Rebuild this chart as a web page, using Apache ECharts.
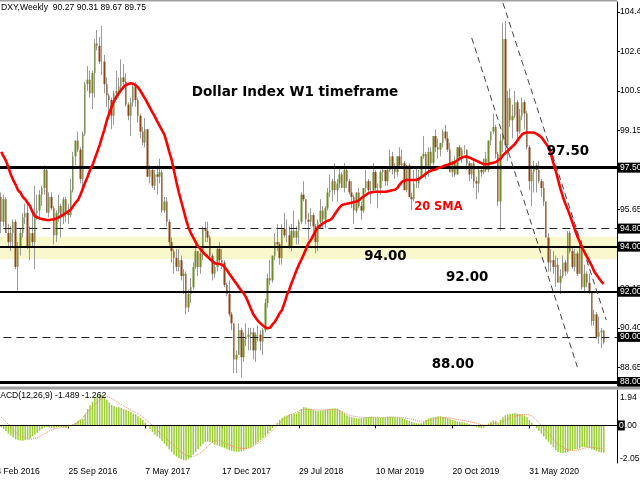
<!DOCTYPE html>
<html><head><meta charset="utf-8">
<script src="https://cdn.jsdelivr.net/npm/echarts@6/dist/echarts.min.js"></script>
<style>html,body{margin:0;padding:0;background:#fff}#c{width:640px;height:480px}</style>
</head><body><div id="c"></div>
<script>
// ---- weekly OHLC (13 Mar 2016 .. 3 Jan 2021) ----
const opens = [
96.2,95.1,96.1,94.6,94.2,94.6,95.1,93.1,94.0,94.6,
95.3,95.5,94.0,94.6,94.2,95.5,95.6,96.3,96.6,97.4,
95.5,96.2,95.7,94.5,95.5,95.8,95.3,96.1,95.5,95.4,
96.5,98.0,98.7,98.3,97.0,99.0,101.2,101.4,100.8,101.7,
103.0,102.9,102.2,102.2,101.2,100.7,100.5,99.8,100.8,100.9,
101.1,101.5,101.3,100.3,99.8,100.4,101.1,100.5,99.8,99.1,
98.6,99.2,97.1,97.4,96.7,97.2,97.1,97.3,95.6,96.0,
95.1,94.2,93.8,93.5,93.1,93.4,92.7,92.8,91.3,91.9,
92.2,93.1,93.8,93.1,93.7,94.8,94.7,94.4,93.6,92.8,
93.1,93.9,93.4,93.3,92.3,91.9,91.0,90.6,89.0,89.2,
90.3,89.1,89.9,90.0,90.1,90.2,89.4,90.1,90.1,89.8,
90.3,91.5,92.6,92.5,93.6,94.2,94.1,93.5,94.8,94.5,
94.5,94.0,94.7,94.4,94.7,95.1,96.3,96.1,95.2,95.1,
95.4,94.9,94.2,95.1,95.6,95.2,95.7,96.4,96.5,96.9,
96.5,96.8,97.2,96.6,97.4,96.9,96.4,96.2,95.6,96.4,
95.8,95.6,96.6,96.9,96.5,96.5,97.3,96.6,96.6,97.3,
97.4,96.9,97.4,98.0,97.5,97.3,98.0,97.6,97.7,96.5,
97.6,96.2,96.1,96.8,96.8,97.1,98.0,98.1,97.5,98.2,
97.7,98.9,98.4,98.3,98.6,99.1,98.8,98.3,97.3,97.8,
97.2,98.4,98.0,98.3,98.3,97.7,97.2,97.7,96.9,96.8,
97.4,97.3,97.9,97.4,98.7,99.1,99.3,98.1,96.0,98.7,
103.2,98.5,100.6,99.6,99.8,100.4,99.1,99.8,100.4,99.9,
98.4,96.9,97.3,97.6,97.4,96.9,96.6,96.0,94.4,93.3,
93.4,93.1,93.2,92.4,92.7,93.3,92.9,94.6,93.8,93.1,
93.7,92.8,94.0,92.2,92.8,92.4,92.0,90.7,91.0,90.0,
90.2,90.27];
const highs = [
96.4,96.3,96.2,95.0,94.9,95.2,95.2,94.2,94.8,95.5,
95.9,96.0,94.9,95.6,96.7,96.3,96.5,96.7,97.6,97.5,
96.4,96.4,95.8,95.6,96.3,95.9,96.2,96.2,95.9,97.0,
98.2,98.7,99.1,98.4,99.1,101.3,102.0,101.8,101.8,103.2,
103.6,103.3,103.8,102.5,101.5,100.8,100.6,100.9,101.8,101.5,
102.3,102.1,101.7,100.4,100.6,101.2,101.3,100.6,99.9,99.3,
99.7,99.2,97.6,97.5,97.4,97.6,97.9,97.4,96.2,96.2,
95.2,94.4,93.9,93.9,93.9,93.6,93.0,92.9,92.1,92.6,
93.3,94.1,93.8,93.9,94.9,95.1,95.1,94.5,93.7,93.3,
94.0,94.2,93.9,93.4,92.4,92.5,91.1,90.6,89.4,90.6,
90.4,90.2,90.6,90.4,90.4,90.4,90.2,90.5,90.3,90.4,
91.7,92.8,93.4,93.6,94.6,95.0,94.2,95.0,95.5,95.2,
94.9,95.0,95.6,94.9,95.2,96.4,96.9,96.1,95.5,95.7,
95.5,95.0,95.2,96.1,95.8,95.8,96.6,97.2,97.0,97.7,
97.0,97.5,97.3,97.7,97.5,97.0,96.9,96.3,96.4,96.6,
96.0,96.6,97.4,97.0,96.9,97.7,97.4,96.8,97.4,97.5,
97.4,97.5,98.3,98.2,97.7,98.0,98.4,98.3,97.8,97.6,
97.7,96.4,97.4,97.5,97.4,98.0,98.9,98.2,98.4,98.4,
98.9,99.2,98.8,98.6,99.2,99.4,99.1,98.6,97.8,98.0,
98.4,98.5,98.4,98.5,98.3,97.8,97.7,97.8,97.1,97.5,
97.5,97.9,98.2,98.7,99.1,99.9,99.4,98.2,99.0,103.9,
104.0,100.9,101.0,100.3,100.9,100.5,100.1,100.6,100.5,100.0,
98.5,97.6,97.8,97.7,97.8,97.0,96.9,96.0,94.6,93.9,
93.8,93.6,93.5,93.0,93.6,93.4,94.7,94.7,94.0,93.9,
93.8,94.3,94.3,93.2,92.9,92.8,92.0,91.2,91.1,90.9,
90.4,90.31];
const lows = [
94.6,94.9,94.6,94.0,93.8,94.0,93.0,92.0,93.6,94.4,
95.0,93.9,93.4,94.0,93.0,95.2,95.3,95.8,96.3,95.5,
95.3,95.6,94.1,94.2,95.1,94.4,95.0,95.1,95.0,95.3,
96.4,97.6,98.2,96.8,96.5,98.9,100.9,100.6,100.1,100.6,
102.7,102.1,101.6,100.8,100.2,99.8,99.2,99.4,100.5,100.6,
100.8,101.1,100.2,99.6,98.9,100.2,100.2,99.5,98.8,98.5,
98.4,97.1,96.8,96.6,96.5,96.3,96.8,95.5,95.5,94.9,
94.0,93.3,92.8,92.9,92.9,92.5,91.9,91.0,91.1,91.5,
92.1,93.0,92.7,92.8,93.4,94.2,94.2,93.4,92.5,92.6,
92.9,93.2,93.0,92.2,91.8,90.9,90.3,88.4,88.4,89.2,
88.2,88.9,89.6,89.4,89.4,89.0,88.9,89.8,89.4,89.2,
90.2,91.3,92.3,92.4,93.4,93.8,93.2,93.2,94.4,94.2,
93.9,93.8,94.4,94.1,94.1,95.0,96.0,95.0,94.3,94.9,
94.6,93.7,93.8,94.8,94.8,94.8,95.6,96.2,96.0,96.3,
96.0,96.6,96.6,96.4,96.6,96.3,95.7,95.0,95.5,95.7,
95.2,95.5,96.4,96.3,95.9,96.4,96.5,95.7,96.3,96.9,
96.7,96.7,97.3,97.2,97.0,97.1,97.5,97.5,96.5,96.4,
96.2,95.6,96.0,96.6,96.6,97.0,97.9,97.0,97.1,97.4,
97.6,98.2,97.9,98.0,98.4,98.7,98.2,97.3,97.1,97.1,
97.2,97.9,97.7,98.1,97.4,96.9,97.0,96.6,96.1,96.4,
97.1,97.2,97.3,97.3,98.5,99.0,97.9,95.8,94.7,98.2,
98.2,97.8,99.3,98.8,99.7,98.8,99.0,99.6,99.2,98.3,
96.5,95.8,96.4,96.4,96.8,96.2,95.8,94.4,92.9,92.9,
92.8,92.2,92.4,91.9,92.6,92.7,92.8,93.7,93.0,92.9,
92.7,92.8,92.1,92.0,92.2,91.9,90.5,90.5,89.9,89.7,
89.5,89.67];
const closes = [
95.1,96.1,94.6,94.2,94.6,95.1,93.1,94.0,94.6,95.3,
95.5,94.0,94.6,94.2,95.5,95.6,96.3,96.6,97.4,95.5,
96.2,95.7,94.5,95.5,95.8,95.3,96.1,95.5,95.4,96.5,
98.0,98.7,98.3,97.0,99.0,101.2,101.4,100.8,101.7,103.0,
102.9,102.2,102.2,101.2,100.7,100.5,99.8,100.8,100.9,101.1,
101.5,101.3,100.3,99.8,100.4,101.1,100.5,99.8,99.1,98.6,
99.2,97.1,97.4,96.7,97.2,97.1,97.3,95.6,96.0,95.1,
94.2,93.8,93.5,93.1,93.4,92.7,92.8,91.3,91.9,92.2,
93.1,93.8,93.1,93.7,94.8,94.7,94.4,93.6,92.8,93.1,
93.9,93.4,93.3,92.3,91.9,91.0,90.6,89.0,89.2,90.3,
89.1,89.9,90.0,90.1,90.2,89.4,90.1,90.1,89.8,90.3,
91.5,92.6,92.5,93.6,94.2,94.1,93.5,94.8,94.5,94.5,
94.0,94.7,94.4,94.7,95.1,96.3,96.1,95.2,95.1,95.4,
94.9,94.2,95.1,95.6,95.2,95.7,96.4,96.5,96.9,96.5,
96.8,97.2,96.6,97.4,96.9,96.4,96.2,95.6,96.4,95.8,
95.6,96.6,96.9,96.5,96.5,97.3,96.6,96.6,97.3,97.4,
96.9,97.4,98.0,97.5,97.3,98.0,97.6,97.7,96.5,97.6,
96.2,96.1,96.8,96.8,97.1,98.0,98.1,97.5,98.2,97.7,
98.9,98.4,98.3,98.6,99.1,98.8,98.3,97.3,97.8,97.2,
98.4,98.0,98.3,98.3,97.7,97.2,97.7,96.9,96.8,97.4,
97.3,97.9,97.4,98.7,99.1,99.3,98.1,96.0,98.7,103.2,
98.5,100.6,99.6,99.8,100.4,99.1,99.8,100.4,99.9,98.4,
96.9,97.3,97.6,97.4,96.9,96.6,96.0,94.4,93.3,93.4,
93.1,93.2,92.4,92.7,93.3,92.9,94.6,93.8,93.1,93.7,
92.8,94.0,92.2,92.8,92.4,92.0,90.7,91.0,90.0,90.2,
90.27,89.75];
// ---- 20-period SMA as drawn (red line) ----
const sma20 = [
98.2,98.0,97.8,97.5,97.2,96.95,96.75,96.5,96.4,96.2,
96.1,95.95,95.8,95.55,95.35,95.3,95.25,95.22,95.2,95.18,
95.18,95.2,95.21,95.25,95.3,95.36,95.42,95.5,95.56,95.65,
95.8,95.95,96.07,96.3,96.58,96.85,97.1,97.4,97.6,97.9,
98.2,98.5,98.85,99.2,99.6,99.9,100.2,100.45,100.65,100.8,
100.95,101.08,101.17,101.21,101.24,101.22,101.15,101.06,100.9,100.72,
100.55,100.35,100.15,99.95,99.76,99.55,99.35,99.15,98.95,98.6,
98.2,97.85,97.35,96.85,96.4,96.0,95.6,95.2,94.85,94.6,
94.4,94.2,94.0,93.9,93.75,93.65,93.55,93.45,93.35,93.26,
93.24,93.23,93.2,93.1,92.96,92.8,92.65,92.5,92.35,92.2,
92.05,91.93,91.75,91.5,91.25,91.0,90.85,90.7,90.6,90.5,
90.42,90.38,90.4,90.55,90.67,90.85,91.05,91.2,91.5,91.85,
92.1,92.4,92.67,92.95,93.2,93.42,93.65,93.9,94.15,94.3,
94.5,94.7,94.85,94.95,95.03,95.1,95.15,95.18,95.28,95.45,
95.6,95.75,95.85,95.88,95.9,95.92,95.95,95.98,96.0,96.05,
96.15,96.22,96.3,96.38,96.4,96.42,96.43,96.43,96.43,96.43,
96.43,96.45,96.48,96.5,96.52,96.6,96.75,96.88,96.92,96.95,
96.95,96.95,96.95,96.96,97.0,97.08,97.15,97.25,97.32,97.36,
97.4,97.42,97.48,97.52,97.55,97.6,97.63,97.67,97.7,97.75,
97.82,97.9,97.95,97.99,97.99,97.95,97.9,97.85,97.8,97.75,
97.7,97.66,97.65,97.66,97.7,97.72,97.75,97.82,97.9,98.05,
98.15,98.25,98.35,98.45,98.55,98.7,98.85,98.98,99.04,99.06,
99.06,99.06,99.05,99.0,98.93,98.85,98.7,98.55,98.4,98.1,
97.7,97.35,96.95,96.55,96.2,95.9,95.65,95.35,95.05,94.75,
94.45,94.2,93.95,93.75,93.55,93.35,93.15,92.9,92.75,92.6,
92.45,92.35];
// ---- MACD(12,26,9): histogram (main) and signal ----
const macdMain = [
-0.1,-0.2,-0.3,-0.45,-0.55,-0.65,-0.75,-0.8,-0.82,-0.84,
-0.8,-0.78,-0.72,-0.6,-0.5,-0.4,-0.3,-0.2,-0.12,-0.08,
-0.1,-0.12,-0.15,-0.12,-0.1,-0.08,-0.1,-0.12,-0.1,-0.05,
0.05,0.15,0.25,0.3,0.35,0.6,0.9,1.1,1.3,1.5,
1.65,1.7,1.68,1.55,1.4,1.25,1.12,1.05,1.0,1.0,
0.95,0.9,0.85,0.8,0.72,0.65,0.6,0.5,0.42,0.3,
0.15,0.0,-0.2,-0.35,-0.5,-0.6,-0.7,-0.85,-1.0,-1.15,
-1.3,-1.45,-1.6,-1.7,-1.8,-1.85,-1.9,-1.9,-1.85,-1.75,
-1.6,-1.45,-1.3,-1.15,-1.0,-0.9,-0.88,-0.9,-0.95,-1.05,
-1.1,-1.15,-1.2,-1.25,-1.3,-1.35,-1.4,-1.42,-1.44,-1.44,
-1.42,-1.38,-1.3,-1.24,-1.2,-1.1,-1.0,-0.9,-0.8,-0.7,
-0.6,-0.45,-0.3,-0.15,0.0,0.15,0.3,0.42,0.5,0.55,
0.6,0.62,0.65,0.67,0.75,0.9,1.0,0.98,0.92,0.88,
0.85,0.8,0.78,0.8,0.82,0.85,0.88,0.9,0.92,0.94,
0.92,0.85,0.75,0.65,0.55,0.48,0.45,0.42,0.4,0.38,
0.4,0.42,0.45,0.45,0.47,0.47,0.45,0.43,0.42,0.43,
0.45,0.47,0.48,0.47,0.45,0.43,0.42,0.4,0.35,0.3,
0.25,0.2,0.15,0.12,0.1,0.12,0.2,0.3,0.38,0.42,
0.45,0.47,0.5,0.5,0.48,0.45,0.4,0.35,0.3,0.25,
0.22,0.2,0.18,0.15,0.12,0.08,0.04,0.0,-0.08,-0.12,
-0.15,-0.12,-0.05,0.1,0.2,0.27,0.25,0.1,0.3,0.45,
0.55,0.6,0.62,0.65,0.67,0.65,0.62,0.6,0.55,0.45,
0.3,0.15,0.0,-0.15,-0.3,-0.45,-0.6,-0.75,-0.9,-1.05,
-1.2,-1.35,-1.45,-1.5,-1.52,-1.5,-1.45,-1.4,-1.35,-1.3,
-1.3,-1.25,-1.2,-1.18,-1.2,-1.25,-1.3,-1.35,-1.4,-1.45,
-1.48,-1.489];
const macdSignal = [
0.45,0.35,0.2,0.05,-0.1,-0.25,-0.35,-0.45,-0.55,-0.62,
-0.68,-0.72,-0.75,-0.75,-0.72,-0.68,-0.6,-0.53,-0.45,-0.38,
-0.3,-0.25,-0.2,-0.17,-0.14,-0.12,-0.1,-0.08,-0.05,0.0,
0.05,0.1,0.18,0.3,0.45,0.6,0.75,0.88,1.0,1.12,
1.25,1.38,1.48,1.55,1.58,1.55,1.48,1.4,1.32,1.22,
1.15,1.08,1.0,0.92,0.85,0.78,0.72,0.65,0.55,0.45,
0.35,0.25,0.12,0.0,-0.12,-0.25,-0.4,-0.5,-0.62,-0.75,
-0.88,-1.0,-1.1,-1.22,-1.35,-1.45,-1.55,-1.62,-1.68,-1.7,
-1.7,-1.65,-1.58,-1.5,-1.4,-1.28,-1.15,-1.02,-0.9,-0.82,
-0.8,-0.85,-0.9,-0.95,-1.02,-1.08,-1.12,-1.17,-1.2,-1.23,
-1.25,-1.26,-1.26,-1.24,-1.2,-1.12,-1.05,-0.97,-0.88,-0.78,
-0.65,-0.52,-0.4,-0.26,-0.12,0.0,0.12,0.25,0.37,0.47,
0.55,0.62,0.68,0.74,0.8,0.85,0.87,0.88,0.88,0.87,
0.86,0.85,0.84,0.84,0.84,0.85,0.86,0.87,0.87,0.86,
0.84,0.8,0.75,0.68,0.62,0.56,0.52,0.5,0.48,0.46,
0.45,0.44,0.44,0.44,0.44,0.45,0.45,0.45,0.44,0.44,
0.44,0.45,0.45,0.46,0.46,0.45,0.44,0.43,0.41,0.39,
0.36,0.33,0.3,0.27,0.24,0.23,0.23,0.25,0.28,0.31,
0.34,0.37,0.4,0.42,0.43,0.43,0.42,0.4,0.38,0.36,
0.33,0.31,0.28,0.26,0.24,0.21,0.18,0.15,0.11,0.07,
0.04,0.02,0.01,0.02,0.05,0.09,0.12,0.13,0.16,0.22,
0.28,0.34,0.4,0.45,0.5,0.54,0.57,0.59,0.6,0.6,
0.57,0.5,0.4,0.28,0.15,0.0,-0.15,-0.3,-0.45,-0.6,
-0.75,-0.9,-1.02,-1.12,-1.2,-1.28,-1.33,-1.36,-1.37,-1.37,
-1.35,-1.32,-1.28,-1.24,-1.2,-1.19,-1.2,-1.21,-1.23,-1.25,
-1.26,-1.262];
// ---- axis ticks / levels ----
const priceTicks = [88.65, 90.40, 92.15, 95.65, 99.15, 100.90, 102.65, 104.40];
const macdTopTick = [1.94];
const macdBottomTick = [-2.056];
const xTickLabels = ['14 Feb 2016','25 Sep 2016','7 May 2017','17 Dec 2017','29 Jul 2018','10 Mar 2019','20 Oct 2019','31 May 2020'];
const heavyLevels = [97.50, 88.00];
const solidLevels = [94.00, 92.00];
const dashedLevels = [94.80, 90.00];
const zoneBand = [93.45, 94.44];
// channel lines: [bar index, price] pairs
const channelLines = [[[196, 103.25], [240, 88.66]], [[209, 104.80], [252, 90.75]]];

// ---- build ----
const N_LEAD = 4, N_TRAIL = 5;
const nCat = N_LEAD + closes.length + N_TRAIL;
const MONTHS = ['Jan','Feb','Mar','Apr','May','Jun','Jul','Aug','Sep','Oct','Nov','Dec'];
const t0 = Date.UTC(2016, 1, 14);
const dates = [];
for (let k = 0; k < nCat; k++) {
  const d = new Date(t0 + k * 7 * 86400000);
  dates.push(d.getUTCDate() + ' ' + MONTHS[d.getUTCMonth()] + ' ' + d.getUTCFullYear());
}
const EMPTY4 = ['-','-','-','-'];
function padded(arr) {
  return dates.map((_, k) => { const i = k - N_LEAD; return (i >= 0 && i < arr.length) ? arr[i] : '-'; });
}
const candleFull = dates.map((_, k) => {
  const i = k - N_LEAD;
  if (i < 0 || i >= closes.length) return EMPTY4;
  return [opens[i], closes[i], lows[i], highs[i]];
});
const candleBody = dates.map((_, k) => {
  const i = k - N_LEAD;
  if (i < 0 || i >= closes.length) return EMPTY4;
  return [opens[i], closes[i], Math.min(opens[i], closes[i]), Math.max(opens[i], closes[i])];
});
const last = closes.length - 1;
const SMALL = 'Liberation Sans';
const BIG = 'DejaVu Sans';

const boxLabel = {
  show: true, position: 'end', distance: 1,
  formatter: p => Number(p.value).toFixed(2),
  backgroundColor: '#000', color: '#fff', fontSize: 8.6, fontFamily: SMALL,
  padding: [1, 2, 0, 2], lineHeight: 9
};
const levelItems = [];
levelItems.push({ yAxis: closes[last], lineStyle: { opacity: 0 } });
dashedLevels.forEach(v => levelItems.push({ yAxis: v, lineStyle: { color: '#222', width: 1, type: [8, 5] } }));
solidLevels.forEach(v => levelItems.push({ yAxis: v, lineStyle: { color: '#000', width: 2, type: 'solid' } }));
heavyLevels.forEach(v => levelItems.push({ yAxis: v, lineStyle: { color: '#000', width: 3, type: 'solid' } }));
channelLines.forEach(seg => {
  const st = { color: '#444', width: 1, type: [6, 4] };
  levelItems.push([
    { coord: [seg[0][0] + N_LEAD, seg[0][1]], lineStyle: st, label: { show: false } },
    { coord: [seg[1][0] + N_LEAD, seg[1][1]], lineStyle: st, label: { show: false } }
  ]);
});

const isTick = (i, v) => xTickLabels.indexOf(v) >= 0;

const option = {
  animation: false,
  backgroundColor: '#fff',
  textStyle: { fontFamily: SMALL },
  grid: [
    { left: -9.6, right: 23, top: 2, height: 384, outerBoundsMode: 'none', containLabel: false },
    { left: -9.6, right: 23, top: 390, height: 73, outerBoundsMode: 'none', containLabel: false }
  ],
  xAxis: [
    { type: 'category', gridIndex: 0, data: dates, boundaryGap: true, show: false },
    { type: 'category', gridIndex: 1, data: dates, boundaryGap: true,
      axisLine: { lineStyle: { color: '#000', width: 1 } },
      axisTick: { show: true, alignWithLabel: true, interval: isTick, length: 3, lineStyle: { color: '#000' } },
      axisLabel: { interval: isTick, align: 'left', color: '#000', fontSize: 8.6, fontFamily: SMALL, margin: 4 },
      splitLine: { show: false } }
  ],
  yAxis: [
    { type: 'value', gridIndex: 0, position: 'right', min: 87.822, max: 104.843,
      axisLine: { show: true, lineStyle: { color: '#000', width: 1 } },
      axisTick: { show: true, length: 3, customValues: priceTicks, lineStyle: { color: '#000' } },
      axisLabel: { customValues: priceTicks, formatter: v => Number(v).toFixed(2), color: '#000', fontSize: 8.6, fontFamily: SMALL, margin: 3 },
      splitLine: { show: false } },
    { type: 'value', gridIndex: 1, position: 'right', min: -2.056, max: 1.94,
      axisLine: { show: true, lineStyle: { color: '#000', width: 1 } },
      axisTick: { show: false },
      axisLabel: { customValues: macdTopTick, formatter: v => String(v), verticalAlign: 'top', padding: [3, 0, 0, 0], color: '#000', fontSize: 8.6, fontFamily: SMALL, margin: 3 },
      splitLine: { show: false } },
    { type: 'value', gridIndex: 1, position: 'right', min: -2.056, max: 1.94,
      axisLine: { show: false }, axisTick: { show: false },
      axisLabel: { customValues: macdBottomTick, formatter: v => String(v), verticalAlign: 'bottom', color: '#000', fontSize: 8.6, fontFamily: SMALL, margin: 3 },
      splitLine: { show: false } }
  ],
  series: [
    { name: 'zone', type: 'line', xAxisIndex: 0, yAxisIndex: 0, data: padded([]), z: 1, silent: true,
      symbol: 'none', lineStyle: { opacity: 0 },
      markArea: { silent: true, itemStyle: { color: '#f9f7cc' },
        data: [[{ yAxis: zoneBand[0] }, { yAxis: zoneBand[1] }]] } },
    { name: 'wicks', type: 'candlestick', xAxisIndex: 0, yAxisIndex: 0, data: candleFull, barWidth: 1, z: 2,
      itemStyle: { color: '#9a9a9a', color0: '#9a9a9a', borderColor: '#9a9a9a', borderColor0: '#9a9a9a', borderWidth: 1 } },
    { name: 'bodies', type: 'candlestick', xAxisIndex: 0, yAxisIndex: 0, data: candleBody, barWidth: 2, z: 3,
      itemStyle: { color: '#6b8e23', color0: '#8b4513', borderColor: '#6b8e23', borderColor0: '#8b4513', borderWidth: 0 } },
    { name: 'levels', type: 'line', xAxisIndex: 0, yAxisIndex: 0, data: padded([]), z: 4, silent: true,
      symbol: 'none', lineStyle: { opacity: 0 },
      markLine: { silent: true, symbol: ['none', 'none'], animation: false, label: boxLabel, data: levelItems } },
    { name: '20 SMA', type: 'line', xAxisIndex: 0, yAxisIndex: 0, data: padded(sma20), z: 5,
      symbol: 'none', showSymbol: false, lineStyle: { color: '#ff0000', width: 2.6 } },
    { name: 'MACD', type: 'bar', xAxisIndex: 1, yAxisIndex: 1, data: padded(macdMain), barWidth: 1.5, z: 2,
      itemStyle: { color: '#9acd32' },
      markLine: { silent: true, symbol: ['none', 'none'], animation: false,
        lineStyle: { color: '#000', width: 1, type: 'solid' },
        label: { show: true, position: 'end', distance: 1, formatter: '{k|0}.00', color: '#000', fontSize: 8.6, fontFamily: SMALL,
          rich: { k: { backgroundColor: '#000', color: '#fff', fontSize: 8.6, fontFamily: SMALL, padding: [1, 1, 0, 1] } } },
        data: [{ yAxis: 0 }] } },
    { name: 'Signal', type: 'line', xAxisIndex: 1, yAxisIndex: 1, data: padded(macdSignal), z: 3,
      symbol: 'none', showSymbol: false, lineStyle: { color: '#f4845f', width: 1, type: 'dotted' } }
  ],
  graphic: [
    { type: 'rect', silent: true, z: 50, shape: { x: 0, y: 0, width: 617, height: 1.5 }, style: { fill: '#a0a0a0' } },
    { type: 'rect', silent: true, z: 50, shape: { x: 0, y: 386.5, width: 640, height: 3 }, style: { fill: '#a0a0a0' } },
    { type: 'text', silent: true, z: 60, x: 1, y: 7.5,
      style: { text: 'DXY,Weekly  ' + [opens[last], highs[last], lows[last], closes[last]].map(v => v.toFixed(2)).join(' '),
        fill: '#000', font: '8.6px "Liberation Sans"', verticalAlign: 'middle', align: 'left' } },
    { type: 'text', silent: true, z: 60, x: -7, y: 396,
      style: { text: 'MACD(12,26,9) ' + macdMain[last].toFixed(3) + ' ' + macdSignal[last].toFixed(3),
        fill: '#000', font: '8.6px "Liberation Sans"', verticalAlign: 'middle', align: 'left' } },
    { type: 'text', silent: true, z: 60, x: 191.7, y: 92.7,
      style: { text: 'Dollar Index W1 timeframe', fill: '#000', font: 'bold 13.6px "DejaVu Sans"', verticalAlign: 'middle', align: 'left' } },
    { type: 'text', silent: true, z: 60, x: 546.7, y: 151.7,
      style: { text: '97.50', fill: '#000', font: 'bold 13.4px "DejaVu Sans"', verticalAlign: 'middle', align: 'left' } },
    { type: 'text', silent: true, z: 60, x: 364.3, y: 256.7,
      style: { text: '94.00', fill: '#000', font: 'bold 13.4px "DejaVu Sans"', verticalAlign: 'middle', align: 'left' } },
    { type: 'text', silent: true, z: 60, x: 446, y: 277.7,
      style: { text: '92.00', fill: '#000', font: 'bold 13.4px "DejaVu Sans"', verticalAlign: 'middle', align: 'left' } },
    { type: 'text', silent: true, z: 60, x: 431.7, y: 365,
      style: { text: '88.00', fill: '#000', font: 'bold 13.4px "DejaVu Sans"', verticalAlign: 'middle', align: 'left' } },
    { type: 'text', silent: true, z: 60, x: 414.3, y: 207.3,
      style: { text: '20 SMA', fill: '#ff0000', font: 'bold 11.4px "DejaVu Sans"', verticalAlign: 'middle', align: 'left' } }
  ]
};
const chart = echarts.init(document.getElementById('c'), null, { renderer: 'canvas', width: 640, height: 480 });
chart.setOption(option);
</script>
</body></html>
